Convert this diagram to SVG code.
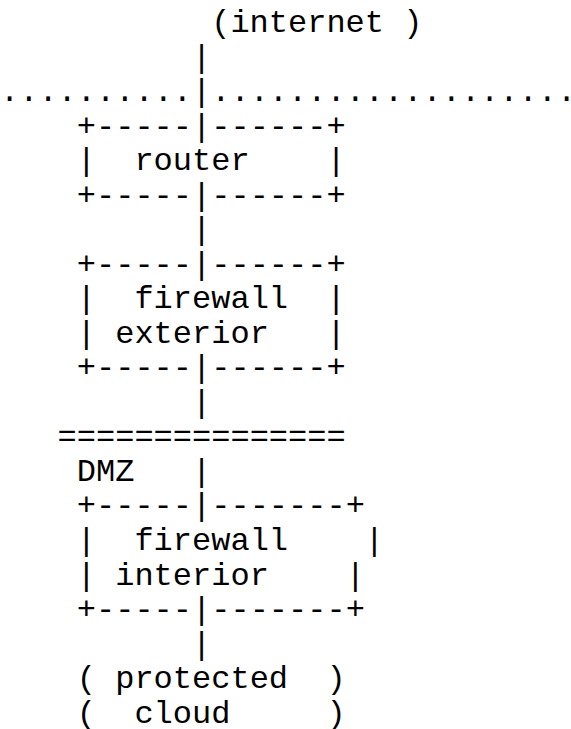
<svg xmlns="http://www.w3.org/2000/svg" width="571" height="729" viewBox="0 0 571 729">
<style>
text{font-family:"Liberation Mono","Courier New",monospace;font-size:32px;fill:#000;white-space:pre}
</style>
<rect width="571" height="729" fill="#fff"/>
<g id="internet"><text x="211.2" y="32">(internet )</text></g>
<g id="perimeter"><text x="0" y="101.1">..........|...................</text></g>
<g id="router">
<text x="76.8" y="135.6">+-----|------+</text>
<text x="76.8" y="170.1" xml:space="preserve">|  router    |</text>
<text x="76.8" y="204.7">+-----|------+</text>
</g>
<g id="firewall-exterior">
<text x="76.8" y="273.7">+-----|------+</text>
<text x="76.8" y="308.2" xml:space="preserve">|  firewall  |</text>
<text x="76.8" y="342.8" xml:space="preserve">| exterior   |</text>
<text x="76.8" y="377.3">+-----|------+</text>
</g>
<g id="dmz">
<text x="57.6" y="446.4">===============</text>
<text x="76.8" y="480.9">DMZ</text>
</g>
<g id="firewall-interior">
<text x="76.8" y="515.4">+-----|-------+</text>
<text x="76.8" y="550" xml:space="preserve">|  firewall    |</text>
<text x="76.8" y="584.5" xml:space="preserve">| interior    |</text>
<text x="76.8" y="619">+-----|-------+</text>
</g>
<g id="protected-cloud">
<text x="76.8" y="688.1" xml:space="preserve">( protected  )</text>
<text x="76.8" y="722.6" xml:space="preserve">(  cloud     )</text>
</g>
<g id="connectors">
<text x="192" y="66.5">|</text>
<text x="192" y="239.2">|</text>
<text x="192" y="411.8">|</text>
<text x="192" y="480.9">|</text>
<text x="192" y="653.5">|</text>
</g>
</svg>
